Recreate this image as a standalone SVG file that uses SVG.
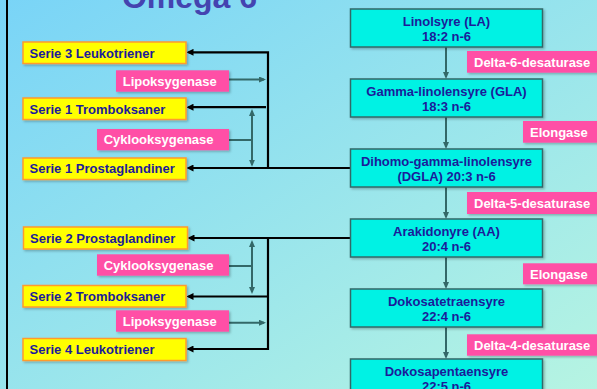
<svg xmlns="http://www.w3.org/2000/svg" width="597" height="389" viewBox="0 0 597 389">
<defs>
<linearGradient id="bg" x1="0" y1="0" x2="1" y2="1">
<stop offset="0" stop-color="#79d4f7"/>
<stop offset="1" stop-color="#b6f4e2"/>
</linearGradient>
<filter id="sh" x="-10%" y="-20%" width="130%" height="160%">
<feDropShadow dx="1.5" dy="1.5" stdDeviation="0.8" flood-color="#000" flood-opacity="0.25"/>
</filter>
<marker id="ab" viewBox="0 0 7 7" refX="5" refY="3.5" markerWidth="7" markerHeight="7" markerUnits="userSpaceOnUse" orient="auto-start-reverse">
<path d="M0,0 L7,3.5 L0,7 z" fill="#000"/>
</marker>
<marker id="at" viewBox="0 0 7 6" refX="5" refY="3" markerWidth="7" markerHeight="6" markerUnits="userSpaceOnUse" orient="auto-start-reverse">
<path d="M0,0 L7,3 L0,6 z" fill="#336868"/>
</marker>
</defs>
<style>
.t{font-family:"Liberation Sans",Arial,sans-serif;font-weight:bold;font-size:13px}
.dk{fill:#1b1b9a}
.wh{fill:#ffffff}
.y{fill:#ffff00;stroke:#ff9a2e;stroke-width:1.5;filter:url(#sh)}
.c{fill:#00f2e4;stroke:#336868;stroke-width:1.5;filter:url(#sh)}
.p{fill:#ff4fa6;filter:url(#sh)}
.bl{fill:none;stroke:#000;stroke-width:2.2}
.tl{fill:none;stroke:#336868;stroke-width:2}
.ctr{text-anchor:middle}
</style>
<rect x="0" y="0" width="597" height="389" fill="url(#bg)"/>
<line x1="7" y1="0" x2="7" y2="389" stroke="#000" stroke-width="2"/>
<text x="189.5" y="8" font-family="Liberation Sans, Arial, sans-serif" font-weight="bold" font-size="32" fill="#4444b0" text-anchor="middle">Omega 6</text>

<g id="connectors">
<path class="bl" d="M350,168 H188.5" marker-end="url(#ab)"/>
<path class="bl" d="M268,169 V52.3 H188.5" marker-end="url(#ab)"/>
<path class="bl" d="M266,107.2 H188.5" marker-end="url(#ab)"/>
<path class="bl" d="M350,238 H189.5" marker-end="url(#ab)"/>
<path class="bl" d="M268,237 V349 H188.5" marker-end="url(#ab)"/>
<path class="bl" d="M268,296.5 H188.5" marker-end="url(#ab)"/>
<path class="tl" d="M229,79.5 H264" marker-end="url(#at)"/>
<path class="tl" d="M229,140 H252"/>
<path class="tl" d="M252,111 V164.7" marker-start="url(#at)" marker-end="url(#at)"/>
<path class="tl" d="M229,266 H252"/>
<path class="tl" d="M252,242 V292" marker-start="url(#at)" marker-end="url(#at)"/>
<path class="tl" d="M229,322.7 H264" marker-end="url(#at)"/>
<path class="tl" d="M446,47 V77" marker-end="url(#at)"/>
<path class="tl" d="M446,117 V147" marker-end="url(#at)"/>
<path class="tl" d="M446,187 V217" marker-end="url(#at)"/>
<path class="tl" d="M446,257 V287" marker-end="url(#at)"/>
<path class="tl" d="M446,327 V357" marker-end="url(#at)"/>
</g>

<g id="la"><rect class="c" x="350.5" y="9" width="192" height="38"/><text class="t dk ctr" x="446.5" y="26">Linolsyre (LA)</text><text class="t dk ctr" x="446.5" y="41">18:2 n-6</text></g>
<g id="gla"><rect class="c" x="350.5" y="79" width="192" height="38"/><text class="t dk ctr" x="446.5" y="96">Gamma-linolensyre (GLA)</text><text class="t dk ctr" x="446.5" y="111">18:3 n-6</text></g>
<g id="dgla"><rect class="c" x="350.5" y="149" width="192" height="38"/><text class="t dk ctr" x="446.5" y="166">Dihomo-gamma-linolensyre</text><text class="t dk ctr" x="446.5" y="181">(DGLA) 20:3 n-6</text></g>
<g id="aa"><rect class="c" x="350.5" y="219" width="192" height="38"/><text class="t dk ctr" x="446.5" y="236">Arakidonyre (AA)</text><text class="t dk ctr" x="446.5" y="251">20:4 n-6</text></g>
<g id="dta"><rect class="c" x="350.5" y="289" width="192" height="38"/><text class="t dk ctr" x="446.5" y="306">Dokosatetraensyre</text><text class="t dk ctr" x="446.5" y="321">22:4 n-6</text></g>
<g id="dpa"><rect class="c" x="350.5" y="359" width="192" height="38"/><text class="t dk ctr" x="446.5" y="376">Dokosapentaensyre</text><text class="t dk ctr" x="446.5" y="391">22:5 n-6</text></g>

<g id="d6"><rect class="p" x="467" y="51" width="135" height="21.7"/><text class="t wh" x="474" y="66.5">Delta-6-desaturase</text></g>
<g id="el1"><rect class="p" x="523" y="121" width="80" height="21.7"/><text class="t wh" x="530" y="136.5">Elongase</text></g>
<g id="d5"><rect class="p" x="467" y="192" width="135" height="22"/><text class="t wh" x="474" y="207.7">Delta-5-desaturase</text></g>
<g id="el2"><rect class="p" x="523" y="263.3" width="80" height="21"/><text class="t wh" x="530" y="278.5">Elongase</text></g>
<g id="d4"><rect class="p" x="467" y="334.3" width="135" height="21.4"/><text class="t wh" x="474" y="349.7">Delta-4-desaturase</text></g>

<g id="s3l"><rect class="y" x="23" y="42" width="163" height="21.5"/><text class="t dk" x="29.5" y="58">Serie 3 Leukotriener</text></g>
<g id="lip1"><rect class="p" x="116" y="70.3" width="113" height="21.4"/><text class="t wh" x="122.7" y="85.7">Lipoksygenase</text></g>
<g id="s1t"><rect class="y" x="23" y="98" width="163" height="21.5"/><text class="t dk" x="29.5" y="113.6">Serie 1 Tromboksaner</text></g>
<g id="cyk1"><rect class="p" x="97" y="129" width="132" height="21.3"/><text class="t wh" x="103.7" y="144.4">Cyklooksygenase</text></g>
<g id="s1p"><rect class="y" x="23" y="158" width="163" height="21.5"/><text class="t dk" x="29.5" y="173.4">Serie 1 Prostaglandiner</text></g>
<g id="s2p"><rect class="y" x="23.5" y="227" width="164" height="22"/><text class="t dk" x="30" y="242.7">Serie 2 Prostaglandiner</text></g>
<g id="cyk2"><rect class="p" x="97" y="254.3" width="132" height="21.4"/><text class="t wh" x="103.7" y="269.7">Cyklooksygenase</text></g>
<g id="s2t"><rect class="y" x="23" y="285.5" width="163" height="21.5"/><text class="t dk" x="29.5" y="300.9">Serie 2 Tromboksaner</text></g>
<g id="lip2"><rect class="p" x="116" y="310.3" width="113" height="21.4"/><text class="t wh" x="122.7" y="325.7">Lipoksygenase</text></g>
<g id="s4l"><rect class="y" x="23" y="338.5" width="163" height="22"/><text class="t dk" x="29.5" y="354">Serie 4 Leukotriener</text></g>
</svg>
